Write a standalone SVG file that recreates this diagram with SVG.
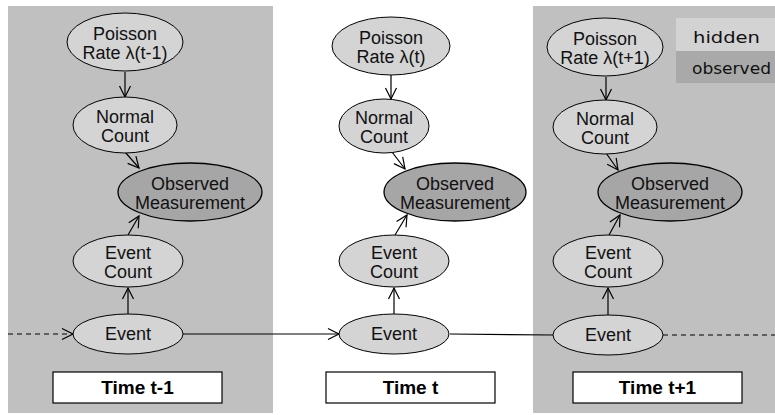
<svg xmlns="http://www.w3.org/2000/svg" width="775" height="415" viewBox="0 0 775 415">
<style>
.panel{fill:#c0c0c0;stroke:none}
.hid{fill:#d4d4d4;stroke:#000;stroke-width:1}
.obs{fill:#a6a6a6;stroke:#000;stroke-width:1.3}
.lbl{font-family:"Liberation Sans",Arial,sans-serif;font-size:18px;fill:#111;text-anchor:middle}
.time{font-family:"Liberation Sans",Arial,sans-serif;font-size:19px;font-weight:bold;fill:#000;text-anchor:middle}
.box{fill:#fff;stroke:#000;stroke-width:1.2}
.leg{font-family:"DejaVu Sans","Open Sans",sans-serif;font-size:16px;fill:#111}
.con{stroke:#000;stroke-width:1.2;fill:none}
.arr{marker-end:url(#ah)}
.dash{stroke-dasharray:5,4}
</style>
<defs>
<marker id="ah" markerUnits="userSpaceOnUse" markerWidth="16" markerHeight="16" viewBox="-13 -8 16 16" refX="0" refY="0" orient="auto">
<path d="M-11,-5.5 L0,0 L-11,5.5" fill="none" stroke="#000" stroke-width="1.2"/>
</marker>
</defs>
<rect class="panel" x="8" y="6" width="265" height="407"/>
<rect class="panel" x="533" y="6" width="242" height="407"/>
<g id="legend">
<rect x="676" y="18" width="99" height="33" fill="#d3d3d3"/>
<rect x="676" y="51" width="99" height="32" fill="#a9a9a9"/>
<text class="leg" x="693" y="43" textLength="67" lengthAdjust="spacingAndGlyphs">hidden</text>
<text class="leg" x="692" y="74" textLength="79" lengthAdjust="spacingAndGlyphs">observed</text>
</g>
<g id="connectors">
<line class="con arr" x1="125" y1="72" x2="125" y2="97"/>
<line class="con arr" x1="125" y1="152" x2="139" y2="168"/>
<line class="con arr" x1="128" y1="235" x2="139" y2="216"/>
<line class="con arr" x1="128" y1="314" x2="128" y2="288"/>
<line class="con arr dash" x1="8" y1="334" x2="73" y2="334"/>
<line class="con arr" x1="183" y1="334" x2="339" y2="334"/>
<line class="con arr" x1="391" y1="75" x2="391" y2="99"/>
<line class="con arr" x1="392" y1="152" x2="405" y2="169"/>
<line class="con arr" x1="395" y1="235" x2="407" y2="215"/>
<line class="con arr" x1="394" y1="314" x2="394" y2="288"/>
<line class="con" x1="450" y1="334" x2="553" y2="335"/>
<line class="con arr" x1="606" y1="77" x2="606" y2="100"/>
<line class="con arr" x1="606" y1="153" x2="618" y2="170"/>
<line class="con arr" x1="609" y1="235" x2="620" y2="215"/>
<line class="con arr" x1="608" y1="315" x2="608" y2="288"/>
<line class="con dash" x1="663" y1="335" x2="775" y2="335"/>
</g>
<g id="poisson-t-1"><ellipse class="hid" cx="125" cy="42" rx="58" ry="29"/><text class="lbl" x="125" y="40">Poisson</text><text class="lbl" x="125" y="59">Rate λ(t-1)</text></g>
<g id="normal-t-1"><ellipse class="hid" cx="125" cy="125" rx="52" ry="28"/><text class="lbl" x="125" y="123">Normal</text><text class="lbl" x="125" y="142">Count</text></g>
<g id="observed-t-1"><ellipse class="obs" cx="190" cy="192" rx="72" ry="29"/><text class="lbl" x="190" y="190">Observed</text><text class="lbl" x="190" y="209">Measurement</text></g>
<g id="eventcount-t-1"><ellipse class="hid" cx="128" cy="261" rx="55" ry="26"/><text class="lbl" x="128" y="259">Event</text><text class="lbl" x="128" y="278">Count</text></g>
<g id="event-t-1"><ellipse class="hid" cx="128" cy="334" rx="55" ry="20"/><text class="lbl" x="128" y="340">Event</text></g>
<g id="time-t-1"><rect class="box" x="53" y="372" width="169" height="31"/><text class="time" x="137.5" y="394">Time t-1</text></g>
<g id="poisson-t"><ellipse class="hid" cx="391" cy="46" rx="59" ry="29"/><text class="lbl" x="391" y="44">Poisson</text><text class="lbl" x="391" y="63">Rate λ(t)</text></g>
<g id="normal-t"><ellipse class="hid" cx="384" cy="126" rx="45" ry="27"/><text class="lbl" x="384" y="124">Normal</text><text class="lbl" x="384" y="143">Count</text></g>
<g id="observed-t"><ellipse class="obs" cx="455" cy="192" rx="71" ry="29"/><text class="lbl" x="455" y="190">Observed</text><text class="lbl" x="455" y="209">Measurement</text></g>
<g id="eventcount-t"><ellipse class="hid" cx="394" cy="261" rx="55" ry="26"/><text class="lbl" x="394" y="259">Event</text><text class="lbl" x="394" y="278">Count</text></g>
<g id="event-t"><ellipse class="hid" cx="394" cy="334" rx="55" ry="20"/><text class="lbl" x="394" y="340">Event</text></g>
<g id="time-t"><rect class="box" x="326" y="372" width="169" height="31"/><text class="time" x="410.5" y="394">Time t</text></g>
<g id="poisson-t+1"><ellipse class="hid" cx="605" cy="47" rx="58" ry="29"/><text class="lbl" x="605" y="45">Poisson</text><text class="lbl" x="605" y="64">Rate λ(t+1)</text></g>
<g id="normal-t+1"><ellipse class="hid" cx="605" cy="127" rx="52" ry="27"/><text class="lbl" x="605" y="125">Normal</text><text class="lbl" x="605" y="144">Count</text></g>
<g id="observed-t+1"><ellipse class="obs" cx="670" cy="192" rx="72" ry="29"/><text class="lbl" x="670" y="190">Observed</text><text class="lbl" x="670" y="209">Measurement</text></g>
<g id="eventcount-t+1"><ellipse class="hid" cx="608" cy="261" rx="55" ry="26"/><text class="lbl" x="608" y="259">Event</text><text class="lbl" x="608" y="278">Count</text></g>
<g id="event-t+1"><ellipse class="hid" cx="608" cy="335" rx="55" ry="20"/><text class="lbl" x="608" y="341">Event</text></g>
<g id="time-t+1"><rect class="box" x="573" y="372" width="169" height="31"/><text class="time" x="657.5" y="394">Time t+1</text></g>
</svg>
